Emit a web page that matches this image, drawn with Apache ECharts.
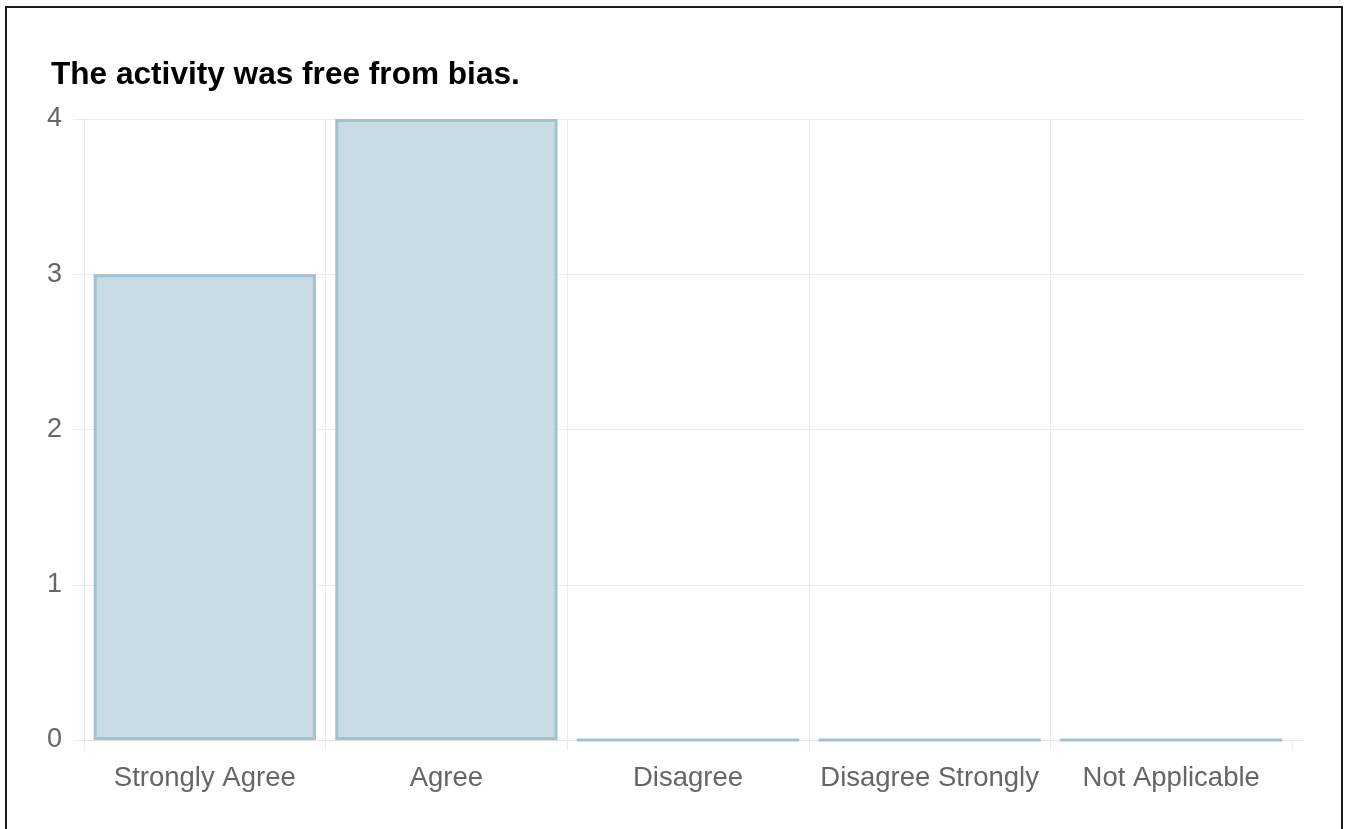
<!DOCTYPE html>
<html>
<head>
<meta charset="utf-8">
<script src="https://cdn.jsdelivr.net/npm/echarts@6/dist/echarts.min.js"></script>
<style>
  html, body { margin: 0; padding: 0; background: #fff; overflow: hidden; }
  #chart { position: absolute; left: 0; top: 0; width: 1345px; height: 829px; }
  #frame { position: absolute; left: 5px; top: 6px; width: 1334px; height: 900px;
           border: 2px solid #1a1a1a; pointer-events: none; }
</style>
</head>
<body>
<div id="chart"></div>
<div id="frame"></div>
<script>
const titleText = 'The activity was free from bias.';
const categories = ['Strongly Agree', 'Agree', 'Disagree', 'Disagree Strongly', 'Not Applicable'];
const counts = [3, 4, 0, 0, 0];
const yTicks = [0, 1, 2, 3, 4];

const chart = echarts.init(document.getElementById('chart'), null, { renderer: 'canvas' });
const gridColor = '#ebebeb';
const font = 'Liberation Sans, Arial, sans-serif';
chart.setOption({
  animation: false,
  title: {
    text: titleText,
    left: 46,
    top: 54,
    textStyle: { fontFamily: font, fontWeight: 'bold', fontSize: 31.6, color: '#000' }
  },
  grid: [
    { left: 84, right: 41, top: 119, bottom: 89, containLabel: false },
    { left: 84, right: 53, top: 119, bottom: 89, containLabel: false }
  ],
  xAxis: [
    { gridIndex: 0, type: 'value', show: false, min: 0, max: 1 },
    {
      gridIndex: 1,
      type: 'category',
      data: categories,
      boundaryGap: true,
      axisLine: { show: true, lineStyle: { color: '#e2e2e2', width: 1 } },
      axisTick: { show: true, interval: 0, length: 10, alignWithLabel: false, lineStyle: { color: gridColor } },
      splitLine: { show: true, interval: 0, showMinLine: true, showMaxLine: false, lineStyle: { color: gridColor, width: 1 } },
      axisLabel: { interval: 0, color: '#666', fontSize: 27.5, fontFamily: font, margin: 24 }
    }
  ],
  yAxis: [
    {
      gridIndex: 0,
      type: 'value',
      min: yTicks[0],
      max: yTicks[yTicks.length - 1],
      interval: 1,
      axisLine: { show: true, lineStyle: { color: gridColor } },
      axisTick: { show: true, length: 11, lineStyle: { color: gridColor } },
      splitLine: { show: true, lineStyle: { color: gridColor, width: 1 } },
      axisLabel: { color: '#666', fontSize: 27, fontFamily: font, margin: 22 }
    },
    {
      gridIndex: 1,
      type: 'value',
      min: yTicks[0],
      max: yTicks[yTicks.length - 1],
      interval: 1,
      show: false
    }
  ],
  series: [{
    type: 'bar',
    xAxisIndex: 1,
    yAxisIndex: 1,
    data: counts,
    barWidth: '92%',
    itemStyle: { color: '#c9dbe5', borderColor: '#a2c2d2', borderWidth: 3 }
  }]
});
</script>
</body>
</html>
